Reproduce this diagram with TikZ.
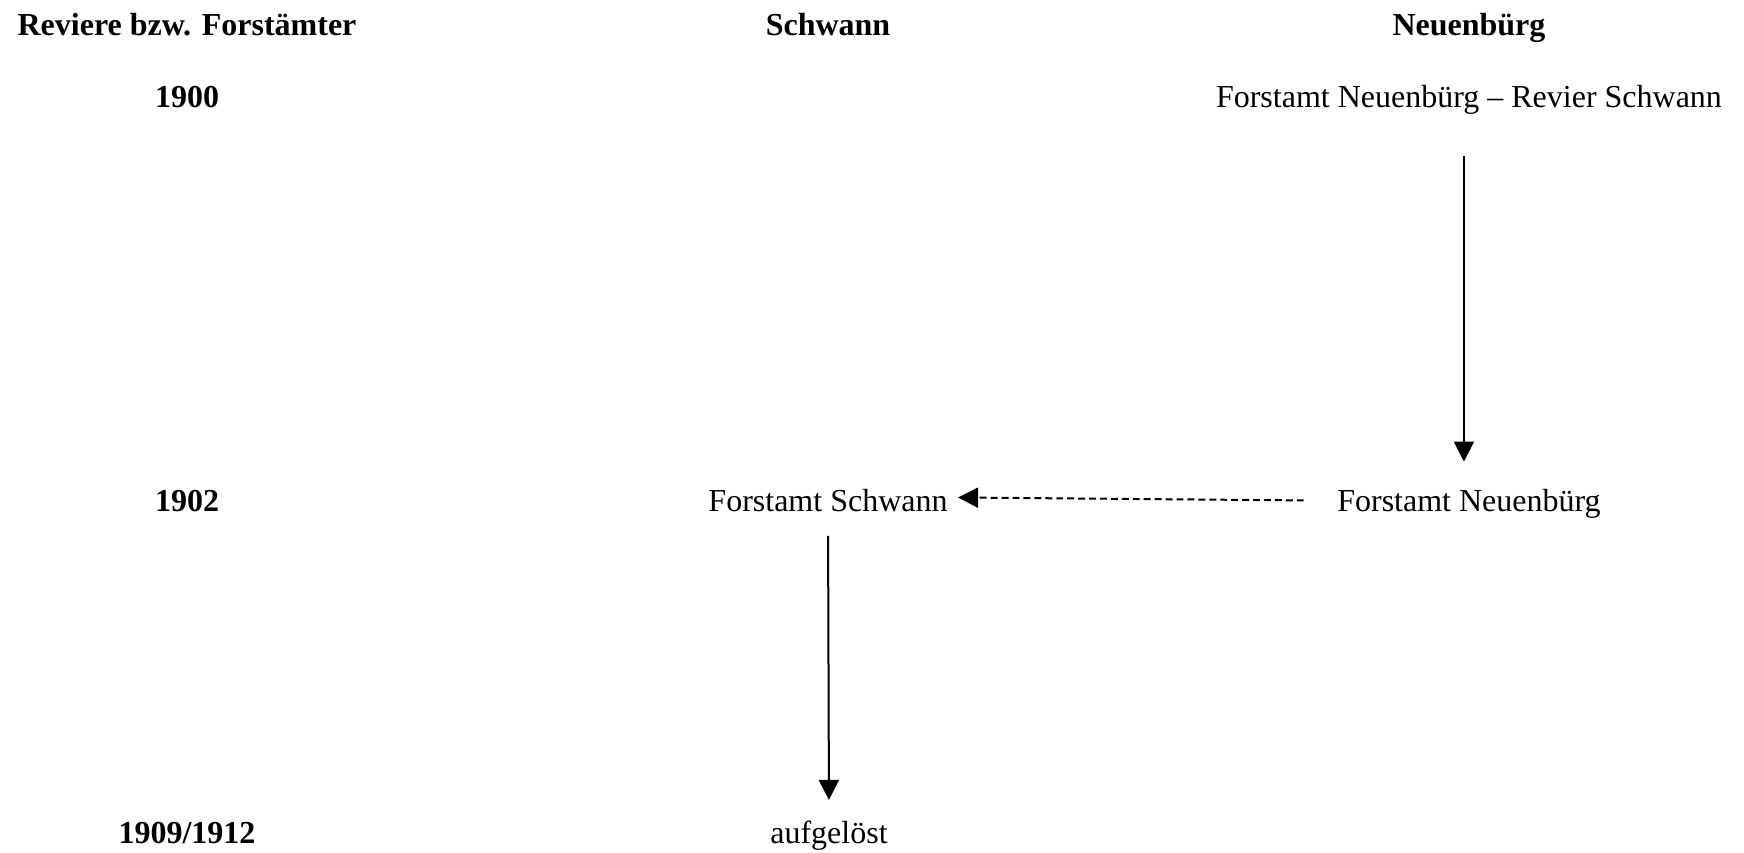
\documentclass[tikz,border=0pt]{standalone}
\usepackage{fontspec}
\setmainfont{Liberation Serif}
\usetikzlibrary{arrows.meta}

\begin{document}
\begin{tikzpicture}[x=0.375pt,y=-0.375pt,>={Triangle[width=7.5pt,length=7.5pt]},
  head/.style={font=\fontsize{12pt}{14pt}\selectfont\bfseries,inner sep=0pt,anchor=base},
  office/.style={font=\fontsize{12pt}{14pt}\selectfont,inner sep=0pt,anchor=base},
  flow/.style={->,line width=0.75pt},
  handover/.style={->,line width=0.75pt,dash pattern=on 2.6pt off 1.5pt}]
  \useasboundingbox (0,0) rectangle (1744,852);
  % header row
  \node[head] (hdyear) at (187,35) {Reviere bzw. Forstämter};
  \node[head] (hdschw) at (828,35) {Schwann};
  \node[head] (hdneu) at (1469,35) {Neuenbürg};
  % years
  \node[head] (y1900) at (187,107) {1900};
  \node[head] (y1902) at (187,511) {1902};
  \node[head] (y1909) at (187,843) {1909/1912};
  % offices
  \node[office] (neurev) at (1469,107) {Forstamt Neuenbürg – Revier Schwann};
  \node[office] (neu) at (1469,511) {Forstamt Neuenbürg};
  \node[office] (schw) at (828,511) {Forstamt Schwann};
  \node[office] (aufg) at (829,843) {aufgelöst};
  % connectors
  \coordinate (neudrop) at ([xshift=-1.9pt]neu.north);
  \draw[flow,shorten <=15.7pt,shorten >=10pt] (neurev.south -| neudrop) -- (neudrop);
  \draw[handover,shorten <=12.4pt,shorten >=3.75pt] ([yshift=1pt]neu.west) -- ([yshift=1pt]schw.east);
  \draw[flow,shorten <=9pt,shorten >=7.5pt] (schw.south) -- (aufg.north);
\end{tikzpicture}
\end{document}
